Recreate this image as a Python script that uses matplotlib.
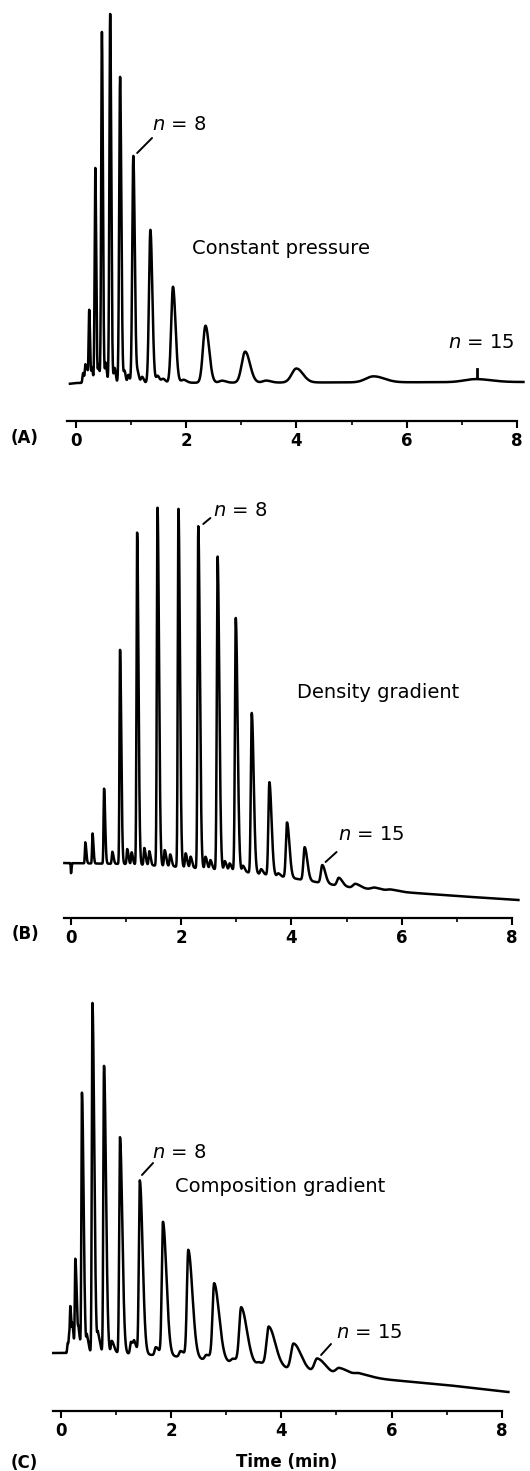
import numpy as np
import matplotlib
matplotlib.use("Agg")
import matplotlib.pyplot as plt
from matplotlib.ticker import MultipleLocator

plt.rcParams['font.family'] = ['DejaVu Sans']

# ---------------- data (time in min, response in arbitrary units) ----------------
tick_vals = [0, 2, 4, 6, 8]
tick_labels = ['0', '2', '4', '6', '8']

# (A) constant pressure
a_t = [0.24, 0.35, 0.47, 0.62, 0.80, 1.04, 1.35, 1.76, 2.35, 3.07, 4.00, 5.40, 7.25]
a_h = [73, 215, 351, 369, 306, 227, 153, 96, 57, 31, 14, 6, 3]
a_w = [0.011, 0.012, 0.013, 0.014, 0.016, 0.019, 0.025, 0.033, 0.046, 0.062, 0.085, 0.14, 0.2]
a_minor_t = [0.13, 0.17, 0.20, 0.29, 0.41, 0.54, 0.70, 0.88, 0.95, 1.12, 1.20, 1.48, 1.58, 1.95, 2.65, 3.45]
a_minor_h = [10, 18, 14, 15, 18, 20, 15, 12, 8, 10, 6, 7, 4, 3, 2, 2]
a_minor_w = [0.012, 0.01, 0.01, 0.012, 0.012, 0.014, 0.015, 0.015, 0.015, 0.018, 0.02, 0.025, 0.03, 0.04, 0.05, 0.06]
a_base_t = [-0.15, 0.0, 8.12]
a_base_y = [37, 38, 39]

# (B) density gradient
b_t = [0.0, 0.26, 0.39, 0.60, 0.89, 1.20, 1.57, 1.95, 2.31, 2.66, 2.99, 3.28, 3.60, 3.92, 4.24, 4.56, 4.86, 5.16, 5.50]
b_h = [-10, 21, 30, 75, 214, 332, 358, 358, 342, 313, 253, 160, 93, 55, 33, 18, 8, 4, 2]
b_w = [0.004, 0.008, 0.008, 0.009, 0.010, 0.011, 0.012, 0.012, 0.013, 0.014, 0.015, 0.016, 0.018, 0.02, 0.022, 0.025, 0.03, 0.04, 0.05]
b_minor_t = [0.75, 1.02, 1.10, 1.33, 1.42, 1.70, 1.80, 2.08, 2.17, 2.44, 2.53, 2.79, 2.88, 3.12, 3.45, 3.76, 5.80]
b_minor_h = [12, 15, 12, 17, 14, 16, 12, 14, 11, 12, 9, 9, 7, 6, 5, 3, 1.5]
b_minor_w = [0.010, 0.010, 0.010, 0.011, 0.011, 0.012, 0.012, 0.012, 0.012, 0.013, 0.013, 0.014, 0.014, 0.015, 0.016, 0.018, 0.06]
b_base_t = [-0.15, 1, 2, 3, 4, 5, 6, 7, 8.1]
b_base_y = [55, 54, 51, 47, 40, 31, 26, 22, 18]

# (C) composition gradient
c_t = [0.17, 0.26, 0.38, 0.57, 0.78, 1.07, 1.43, 1.85, 2.31, 2.78, 3.27, 3.77, 4.22, 4.65, 5.05, 5.41]
c_h = [35, 92, 258, 350, 287, 216, 173, 133, 107, 76, 55, 39, 26, 14, 7, 3]
c_w = [0.008, 0.009, 0.010, 0.011, 0.012, 0.014, 0.017, 0.021, 0.025, 0.03, 0.035, 0.04, 0.045, 0.05, 0.06, 0.07]
c_minor_t = [0.12, 0.15, 0.21, 0.32, 0.47, 0.67, 0.92, 1.27, 1.33, 1.72, 2.17, 2.64, 3.12, 3.60]
c_minor_h = [10, 15, 20, 18, 16, 18, 12, 12, 8, 8, 6, 5, 4, 3]
c_minor_w = [0.008, 0.008, 0.008, 0.01, 0.01, 0.012, 0.014, 0.016, 0.016, 0.02, 0.025, 0.03, 0.035, 0.04]
c_base_t = [-0.15, 1, 2, 3, 4, 5, 6, 7, 8.1]
c_base_y = [58, 58, 55, 49, 43, 36, 31, 26, 19]


def trace(t, times, heights, widths, tail):
    y = np.zeros_like(t)
    for t0, h, s in zip(times, heights, widths):
        sig = np.where(t < t0, s, s * tail)
        y += h * np.exp(-0.5 * ((t - t0) / sig) ** 2)
    return y


W, H = 530, 1471
PX = 55.1  # pixels per minute
fig = plt.figure(figsize=(W / 100, H / 100), dpi=100)


def panel(axis_px, zero_px, start_px, top_px):
    left = start_px / W
    width = (zero_px + 8 * PX - start_px) / W
    ax = fig.add_axes([left, 1 - axis_px / H, width, (axis_px - top_px) / H])
    ax.set_xlim((start_px - zero_px) / PX, 8)
    ax.set_ylim(0, axis_px - top_px)
    for s in ['top', 'left', 'right']:
        ax.spines[s].set_visible(False)
    ax.spines['bottom'].set_linewidth(1.6)
    ax.set_yticks([])
    ax.set_xticks(tick_vals)
    ax.set_xticklabels(tick_labels, fontweight='bold', fontsize=12)
    ax.xaxis.set_minor_locator(MultipleLocator(1))
    ax.tick_params(axis='x', which='major', direction='out', length=5, width=1.5, pad=3)
    ax.tick_params(axis='x', which='minor', direction='out', length=3, width=1.2)
    ax.patch.set_visible(False)
    return ax


def draw(ax, t_start, main, minor, base, tail):
    t = np.linspace(t_start, 8.12, 9000)
    y = np.interp(t, *base) + trace(t, *main, tail) + trace(t, *minor, tail)
    ax.plot(t, y, color='black', lw=1.8, clip_on=False, solid_joinstyle='round')


txt = dict(fontsize=14, color='black')
lead = dict(arrowstyle='-', color='black', lw=1.4, shrinkA=0, shrinkB=0)
lab = dict(ha='center', va='center', fontsize=12, fontweight='bold')

# ---------------- (A) ----------------
axA = panel(421, 76, 67, 5)
draw(axA, -0.11, (a_t, a_h, a_w), (a_minor_t, a_minor_h, a_minor_w), (a_base_t, a_base_y), 1.4)
axA.annotate('', xy=(1.11, 268), xytext=(1.38, 283), arrowprops=lead)
axA.text(1.38, 296, r'$n$ = 8', va='center', ha='left', **txt)
axA.text(2.1, 172, 'Constant pressure', va='center', ha='left', **txt)
axA.text(6.76, 78, r'$n$ = 15', va='center', ha='left', **txt)
axA.plot([7.28, 7.28], [44, 52], color='black', lw=2)
fig.text(25 / W, 1 - 438 / H, '(A)', **lab)

# ---------------- (B) ----------------
axB = panel(918, 71, 64, 495)
draw(axB, -0.12, (b_t, b_h, b_w), (b_minor_t, b_minor_h, b_minor_w), (b_base_t, b_base_y), 2.2)
axB.annotate('', xy=(2.4, 394), xytext=(2.53, 400), arrowprops=lead)
axB.text(2.58, 408, r'$n$ = 8', va='center', ha='left', **txt)
axB.text(4.1, 226, 'Density gradient', va='center', ha='left', **txt)
axB.annotate('', xy=(4.62, 56), xytext=(4.82, 66), arrowprops=lead)
axB.text(4.84, 83, r'$n$ = 15', va='center', ha='left', **txt)
fig.text(25 / W, 1 - 934 / H, '(B)', **lab)

# ---------------- (C) ----------------
axC = panel(1411, 61, 53, 990)
draw(axC, -0.14, (c_t, c_h, c_w), (c_minor_t, c_minor_h, c_minor_w), (c_base_t, c_base_y), 3.0)
axC.annotate('', xy=(1.47, 236), xytext=(1.67, 248), arrowprops=lead)
axC.text(1.65, 259, r'$n$ = 8', va='center', ha='left', **txt)
axC.text(2.07, 225, 'Composition gradient', va='center', ha='left', **txt)
axC.annotate('', xy=(4.72, 56), xytext=(4.9, 67), arrowprops=lead)
axC.text(5.0, 79, r'$n$ = 15', va='center', ha='left', **txt)
fig.text(287 / W, 1 - 1462 / H, 'Time (min)', **lab)
fig.text(24 / W, 1 - 1463 / H, '(C)', **lab)

fig.savefig('out.png', dpi=100)
